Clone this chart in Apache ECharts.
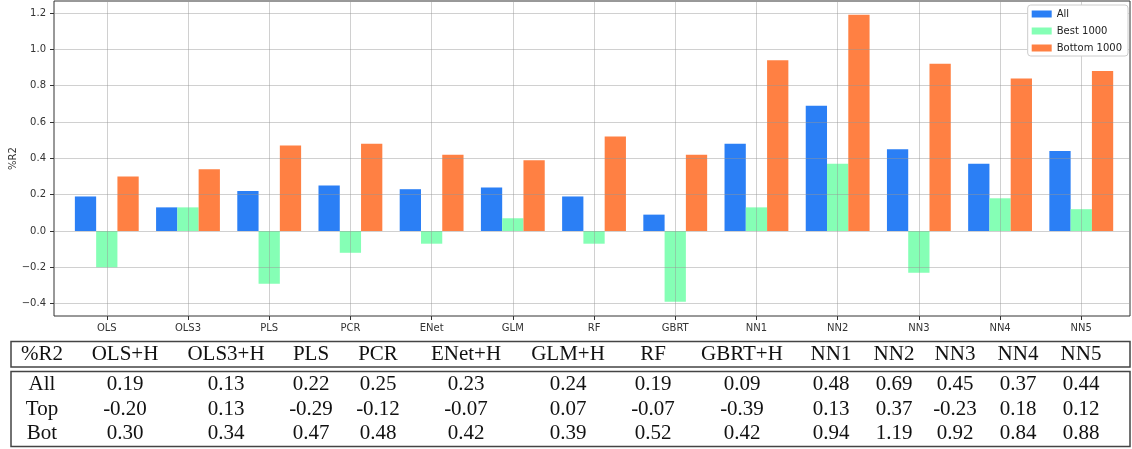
<!DOCTYPE html>
<html>
<head>
<meta charset="utf-8">
<script src="https://cdn.jsdelivr.net/npm/echarts@6/dist/echarts.min.js"></script>
<style>
  html, body { margin: 0; padding: 0; background: #fff; }
  #chart { width: 1132px; height: 449px; }
</style>
</head>
<body>
<div id="chart"></div>
<script>
// bar chart categories and the table header names
const categories = ['OLS', 'OLS3', 'PLS', 'PCR', 'ENet', 'GLM', 'RF', 'GBRT', 'NN1', 'NN2', 'NN3', 'NN4', 'NN5'];
const tableHeader = ['%R2', 'OLS+H', 'OLS3+H', 'PLS', 'PCR', 'ENet+H', 'GLM+H', 'RF', 'GBRT+H', 'NN1', 'NN2', 'NN3', 'NN4', 'NN5'];
const rowNames = ['All', 'Top', 'Bot'];

const allValues    = [0.19, 0.13, 0.22, 0.25, 0.23, 0.24, 0.19, 0.09, 0.48, 0.69, 0.45, 0.37, 0.44];
const bestValues   = [-0.20, 0.13, -0.29, -0.12, -0.07, 0.07, -0.07, -0.39, 0.13, 0.37, -0.23, 0.18, 0.12];
const bottomValues = [0.30, 0.34, 0.47, 0.48, 0.42, 0.39, 0.52, 0.42, 0.94, 1.19, 0.92, 0.84, 0.88];

const yTicks = [-0.4, -0.2, 0.0, 0.2, 0.4, 0.6, 0.8, 1.0, 1.2];
const xTicks = categories.map((c, i) => i);

const chart = echarts.init(document.getElementById('chart'));

const barW = 0.262;

function barItem(offset) {
  return function (params, api) {
    const x = api.value(0) + offset;
    const v = api.value(1);
    const p0 = api.coord([x - barW / 2, 0]);
    const p1 = api.coord([x + barW / 2, v]);
    return {
      type: 'rect',
      shape: {
        x: p0[0],
        y: Math.min(p0[1], p1[1]),
        width: p1[0] - p0[0],
        height: Math.abs(p1[1] - p0[1])
      },
      style: api.style()
    };
  };
}

function makeSeries(name, values, color, offset) {
  return {
    name: name,
    type: 'custom',
    renderItem: barItem(offset),
    itemStyle: { color: color },
    encode: { x: 0, y: 1 },
    data: values.map((v, i) => [i, v]),
    z: 2
  };
}

// table drawn as graphic elements
const colX = [42, 125, 226, 311, 378, 466, 568, 653, 742, 831, 894, 955, 1018, 1081];
const tableFont = '21px "Liberation Serif", "DejaVu Serif", serif';
const graphics = [
  { type: 'rect', shape: { x: 11, y: 341.5, width: 1119, height: 25.5 },
    style: { fill: 'none', stroke: '#444', lineWidth: 1.5 } },
  { type: 'rect', shape: { x: 11, y: 371.5, width: 1119, height: 75 },
    style: { fill: 'none', stroke: '#444', lineWidth: 1.5 } }
];
tableHeader.forEach((h, j) => {
  graphics.push({ type: 'text', x: colX[j], y: 354.5,
    style: { text: h, font: tableFont, fill: '#111', align: 'center', verticalAlign: 'middle' } });
});
[allValues, bestValues, bottomValues].forEach((row, r) => {
  const y = 384.5 + r * 24.5;
  graphics.push({ type: 'text', x: colX[0], y: y,
    style: { text: rowNames[r], font: tableFont, fill: '#111', align: 'center', verticalAlign: 'middle' } });
  row.forEach((v, j) => {
    graphics.push({ type: 'text', x: colX[j + 1], y: y,
      style: { text: v.toFixed(2), font: tableFont, fill: '#111', align: 'center', verticalAlign: 'middle' } });
  });
});

const option = {
  animation: false,
  textStyle: { fontFamily: 'DejaVu Sans' },
  grid: {
    left: 54, right: 2, top: 1, bottom: 133,
    outerBoundsMode: 'none',
    containLabel: false,
    show: true, borderColor: '#333', borderWidth: 1
  },
  legend: {
    orient: 'vertical',
    right: 4, top: 5,
    itemWidth: 20, itemHeight: 7, itemGap: 7,
    icon: 'rect',
    padding: [4, 6, 3, 4],
    borderColor: '#ccc', borderWidth: 1, borderRadius: 3,
    backgroundColor: '#fff',
    textStyle: { fontSize: 10, color: '#222', fontFamily: 'DejaVu Sans' },
    data: ['All', 'Best 1000', 'Bottom 1000']
  },
  xAxis: {
    type: 'value',
    min: -0.65, max: 12.6,
    z: 3,
    axisLine: { show: false, onZero: false },
    axisTick: { show: true, length: 4, customValues: xTicks, lineStyle: { color: '#333' } },
    axisLabel: {
      customValues: xTicks,
      formatter: v => categories[Math.round(v)],
      fontSize: 10, color: '#333', margin: 7
    },
    splitLine: { show: true, lineStyle: { color: 'rgba(150,150,150,0.45)', width: 1 } }
  },
  yAxis: {
    type: 'value',
    min: -0.468, max: 1.266,
    z: 3,
    name: '%R2',
    nameLocation: 'middle',
    nameGap: 36,
    nameMoveOverlap: false,
    nameTextStyle: { fontSize: 10, color: '#333' },
    axisLine: { show: false, onZero: false },
    axisTick: { show: true, length: 4, customValues: yTicks, lineStyle: { color: '#333' } },
    axisLabel: {
      customValues: yTicks,
      formatter: v => v.toFixed(1).replace('-', '\u2212'),
      fontSize: 10, color: '#333', margin: 8
    },
    splitLine: { show: true, lineStyle: { color: 'rgba(150,150,150,0.45)', width: 1 } }
  },
  series: [
    makeSeries('All', allValues, '#2b7ff5', -barW),
    makeSeries('Best 1000', bestValues, '#85ffb5', 0),
    makeSeries('Bottom 1000', bottomValues, '#ff8043', barW)
  ],
  graphic: graphics
};

chart.setOption(option);
</script>
</body>
</html>
